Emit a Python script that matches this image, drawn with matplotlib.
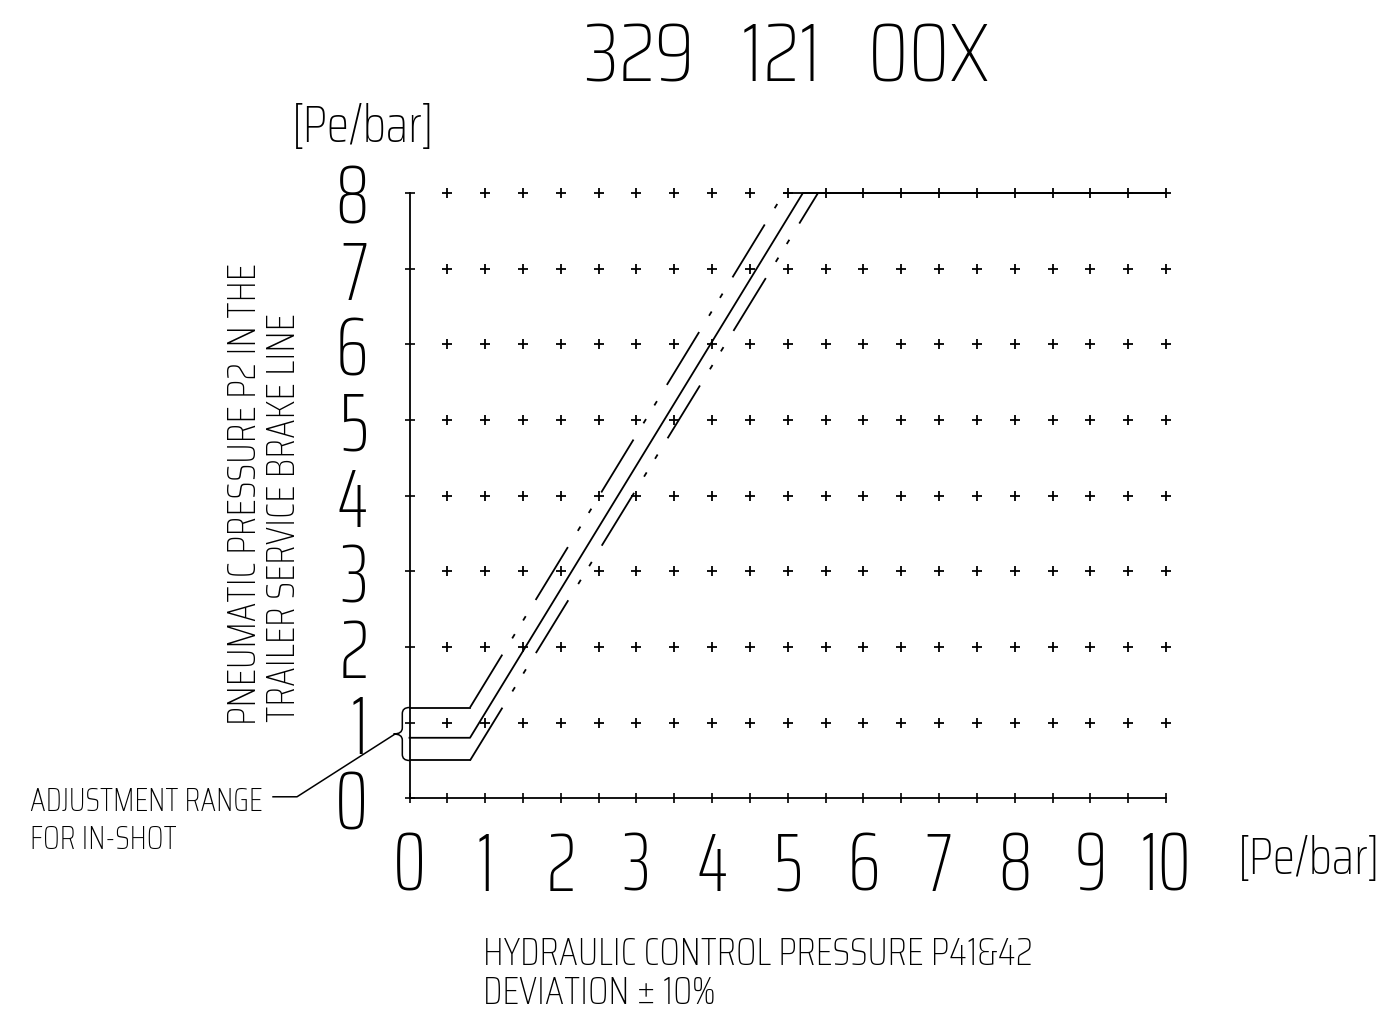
import matplotlib
matplotlib.use("Agg")
import matplotlib.pyplot as plt
from matplotlib.path import Path
from matplotlib.patches import PathPatch

# ---------------- data ----------------
x_ticks = [0, 1, 2, 3, 4, 5, 6, 7, 8, 9, 10]
x_minor_ticks = [0.5, 1.5, 2.5, 3.5, 4.5, 5.5, 6.5, 7.5, 8.5, 9.5]
y_ticks = [0, 1, 2, 3, 4, 5, 6, 7, 8]
x_tick_labels = ["0", "1", "2", "3", "4", "5", "6", "7", "8", "9", "10"]
y_tick_labels = ["0", "1", "2", "3", "4", "5", "6", "7", "8"]

# nominal characteristic (solid)
nominal_x = [0.0, 0.8, 5.2, 10.0]
nominal_y = [0.8, 0.8, 8.0, 8.0]
# upper tolerance limit (in-shot max)
upper_x = [0.0, 0.8, 4.95]
upper_y = [1.2, 1.2, 8.0]
# lower tolerance limit (in-shot min)
lower_x = [0.0, 0.8, 5.4]
lower_y = [0.5, 0.5, 8.0]
# plateau of max pressure
plateau_x = [4.95, 10.0]
plateau_y = [8.0, 8.0]

title = "329   121   00X"
y_unit = "[Pe/bar]"
x_unit = "[Pe/bar]"
y_label = ["PNEUMATIC PRESSURE P2 IN THE", "TRAILER SERVICE BRAKE LINE"]
x_label = ["HYDRAULIC CONTROL PRESSURE P41&42", "DEVIATION \u00b1 10%"]
note = ["ADJUSTMENT RANGE", "FOR IN-SHOT"]

# ---------------- style ----------------
plt.rcParams["lines.scale_dashes"] = False
FAM = ["Saira Condensed", "Saira ExtraCondensed", "Barlow Condensed", "DejaVu Sans"]
FAM_DIG = ["Saira ExtraCondensed", "Barlow Condensed", "DejaVu Sans"]
W = 250
INK = "black"
LW = 1.3
phantom = (0, (44.6, 13.7, 3.6, 11.5, 3.6, 13.7))

W_PX, H_PX = 1400, 1015
fig = plt.figure(figsize=(W_PX / 100, H_PX / 100), dpi=100)
fig.patch.set_facecolor("white")


def fx(px):
    return px / W_PX


def fy(py):
    return 1 - py / H_PX


ax = fig.add_axes([fx(409.5), fy(798.3), fx(1166) - fx(409.5), fy(193) - fy(798.3)])
ax.set_xlim(x_ticks[0], x_ticks[-1])
ax.set_ylim(y_ticks[0], y_ticks[-1])
ax.patch.set_alpha(0)
for s in ["top", "right"]:
    ax.spines[s].set_visible(False)
for s in ["left", "bottom"]:
    ax.spines[s].set_linewidth(LW)
    ax.spines[s].set_color(INK)

ax.set_xticks(x_ticks)
ax.set_xticklabels(x_tick_labels)
ax.set_xticks(x_minor_ticks, minor=True)
ax.set_yticks(y_ticks)
ax.set_yticklabels(y_tick_labels)
ax.tick_params(which="both", direction="inout", length=7.5, width=1.2, color=INK, labelcolor=INK)
ax.tick_params(axis="x", pad=18)
ax.tick_params(axis="y", pad=26)
for lab in ax.get_xticklabels() + ax.get_yticklabels():
    lab.set_fontfamily(FAM_DIG)
    lab.set_fontweight(W)
    lab.set_fontsize(60)

# grid of "+" marks
gx, gy = [], []
for xv in x_minor_ticks + x_ticks[1:]:
    for yv in y_ticks[1:]:
        gx.append(xv)
        gy.append(yv)
ax.plot(gx, gy, linestyle="none", marker="+", markersize=7, markeredgewidth=1.3,
        color=INK, clip_on=False, zorder=2)

# characteristic lines
ax.plot(nominal_x, nominal_y, color=INK, lw=LW, clip_on=False, zorder=3)
ax.plot(plateau_x, plateau_y, color=INK, lw=LW, clip_on=False, zorder=3)
for xs, ys in [(upper_x, upper_y), (lower_x, lower_y)]:
    ax.plot(xs[:2], ys[:2], color=INK, lw=LW, clip_on=False, zorder=3)
    ax.plot(xs[1:], ys[1:], color=INK, lw=LW, linestyle=phantom,
            dash_capstyle="butt", clip_on=False, zorder=3)

# curly brace marking the in-shot adjustment range
top, bot = upper_y[0], lower_y[0]
mid = (top + bot) / 2
d1, d2, r = 0.095, 0.21, 0.08
verts = [(0, top), (-d1, top), (-d1, top - r),
         (-d1, mid + r),
         (-d1, mid), (-d2, mid),
         (-d1, mid), (-d1, mid - r),
         (-d1, bot + r),
         (-d1, bot), (0, bot)]
codes = [Path.MOVETO, Path.CURVE3, Path.CURVE3,
         Path.LINETO,
         Path.CURVE3, Path.CURVE3,
         Path.CURVE3, Path.CURVE3,
         Path.LINETO,
         Path.CURVE3, Path.CURVE3]
ax.add_patch(PathPatch(Path(verts, codes), facecolor="none", edgecolor=INK, lw=1.1,
                       clip_on=False, zorder=3))
# leader line to the note
ax.plot([-d2 + 0.02, -1.487, -1.804], [mid, 0.02, 0.02], color=INK, lw=1.1,
        clip_on=False, zorder=3)

# ---------------- texts ----------------
txt = dict(family=FAM, fontweight=W, color=INK)
fig.text(fx(787), fy(81), title, ha="center", va="baseline", fontsize=60, **txt)
fig.text(fx(292), fy(142), y_unit, ha="left", va="baseline", fontsize=37, **txt)
fig.text(fx(1238), fy(874), x_unit, ha="left", va="baseline", fontsize=37, **txt)
fig.text(fx(245), fy(725), y_label[0], ha="center", va="bottom", rotation=90, fontsize=28.5, **txt)
fig.text(fx(284), fy(722), y_label[1], ha="center", va="bottom", rotation=90, fontsize=28.5, **txt)
fig.text(fx(483), fy(965), x_label[0], ha="left", va="baseline", fontsize=28, **txt)
fig.text(fx(483), fy(1004), x_label[1], ha="left", va="baseline", fontsize=28, **txt)
fig.text(fx(30), fy(811), note[0], ha="left", va="baseline", fontsize=23, **txt)
fig.text(fx(30), fy(849), note[1], ha="left", va="baseline", fontsize=23, **txt)

fig.savefig("out.png", dpi=100, facecolor="white")
